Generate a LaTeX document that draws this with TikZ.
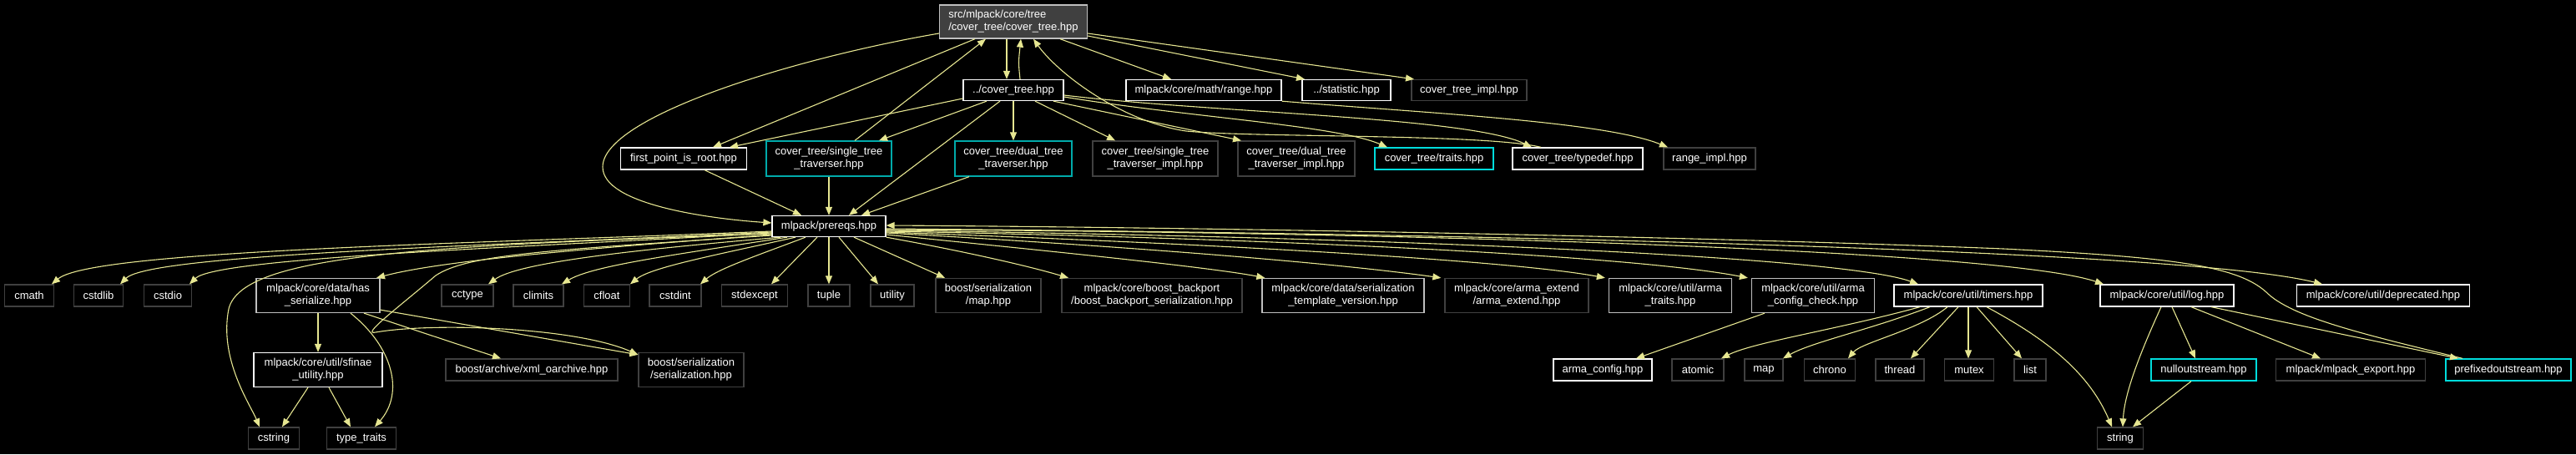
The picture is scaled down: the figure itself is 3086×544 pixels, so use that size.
\documentclass[tikz,border=0pt]{standalone}
\usepackage{fontspec}
\setmainfont{Liberation Sans}
\usetikzlibrary{arrows.meta}
\definecolor{ecol}{RGB}{230,230,145}
\definecolor{dgray}{RGB}{64,64,64}
\definecolor{lgray}{RGB}{191,191,191}
\definecolor{cyanb}{RGB}{0,220,220}
\definecolor{tealb}{RGB}{0,170,170}
\definecolor{topfill}{RGB}{64,64,64}
\tikzset{
  nd/.style={draw, line width=1.3pt, text=white, fill=black,
    font=\fontsize{13}{15}\selectfont, align=center, inner sep=0pt},
  sz/.style 2 args={minimum width=#1, minimum height=#2},
  wb/.style={nd, draw=white},
  gb/.style={nd, draw=lgray},
  db/.style={nd, draw=dgray},
  cb/.style={nd, draw=cyanb},
  tb/.style={nd, draw=tealb},
  conn/.style={draw=ecol, line width=1.1pt, -{Triangle[length=10pt,width=8pt]}},
}
\begin{document}
\begin{tikzpicture}[x=1pt,y=-1pt]
\useasboundingbox (0,0) rectangle (3086,544);
\fill[black] (0,0) rectangle (3086,544);
% row 1
\node[nd, draw=lgray, fill=topfill, align=left, sz={177}{40}] (top) at (1214,26) {src/mlpack/core/tree\\/cover\_tree/cover\_tree.hpp};
% row 2
\node[wb, sz={120}{25}] (ct) at (1214,108) {../cover\_tree.hpp};
\node[wb, sz={186}{25}] (range) at (1442,108) {mlpack/core/math/range.hpp};
\node[wb, sz={106}{25}] (stat) at (1613,108) {../statistic.hpp};
\node[db, sz={138}{25}] (impl) at (1760,108) {cover\_tree\_impl.hpp};
% row 3
\node[wb, sz={151}{26}] (fpr) at (819,190) {first\_point\_is\_root.hpp};
\node[tb, sz={150}{42}] (stt) at (993,190) {cover\_tree/single\_tree\\\_traverser.hpp};
\node[tb, sz={140}{42}] (dtt) at (1214,190) {cover\_tree/dual\_tree\\\_traverser.hpp};
\node[db, sz={150}{42}] (stti) at (1384,190) {cover\_tree/single\_tree\\\_traverser\_impl.hpp};
\node[db, sz={140}{42}] (dtti) at (1553,190) {cover\_tree/dual\_tree\\\_traverser\_impl.hpp};
\node[cb, sz={142}{26}] (traits) at (1718,190) {cover\_tree/traits.hpp};
\node[wb, sz={156}{26}] (typedef) at (1890,190) {cover\_tree/typedef.hpp};
\node[db, sz={110}{26}] (rimpl) at (2048,190) {range\_impl.hpp};
% row 4
\node[wb, sz={136}{25}] (prereqs) at (993,271) {mlpack/prereqs.hpp};
% row 5
\node[db, sz={59}{26}] (cmath) at (35,354) {cmath};
\node[db, sz={59}{26}] (cstdlib) at (118,354) {cstdlib};
\node[db, sz={57}{26}] (cstdio) at (201,354) {cstdio};
\node[gb, sz={148}{41}] (hasser) at (381,354) {mlpack/core/data/has\\\_serialize.hpp};
\node[db, sz={62}{26}] (cctype) at (560,354) {cctype};
\node[db, sz={60}{26}] (climits) at (645,354) {climits};
\node[db, sz={55}{26}] (cfloat) at (727,354) {cfloat};
\node[db, sz={62}{26}] (cstdint) at (809,354) {cstdint};
\node[db, sz={79}{26}] (stdexcept) at (904,354) {stdexcept};
\node[db, sz={50}{26}] (tuple) at (993,354) {tuple};
\node[db, sz={52}{26}] (utility) at (1069,354) {utility};
\node[db, sz={126}{41}] (bsmap) at (1184,354) {boost/serialization\\/map.hpp};
\node[db, sz={216}{41}] (bb) at (1380,354) {mlpack/core/boost\_backport\\/boost\_backport\_serialization.hpp};
\node[gb, sz={194}{41}] (stv) at (1609,354) {mlpack/core/data/serialization\\\_template\_version.hpp};
\node[db, sz={172}{41}] (ae) at (1817,354) {mlpack/core/arma\_extend\\/arma\_extend.hpp};
\node[gb, sz={147}{41}] (atraits) at (2001,354) {mlpack/core/util/arma\\\_traits.hpp};
\node[gb, sz={147}{41}] (acc) at (2172,354) {mlpack/core/util/arma\\\_config\_check.hpp};
\node[wb, sz={178}{26}] (timers) at (2358,354) {mlpack/core/util/timers.hpp};
\node[wb, sz={160}{26}] (log) at (2596,354) {mlpack/core/util/log.hpp};
\node[wb, sz={207}{26}] (depr) at (2855,354) {mlpack/core/util/deprecated.hpp};
% row 6
\node[wb, sz={154}{41}] (sfinae) at (381,443) {mlpack/core/util/sfinae\\\_utility.hpp};
\node[db, sz={206}{26}] (xml) at (637,443) {boost/archive/xml\_oarchive.hpp};
\node[db, sz={126}{41}] (bser) at (828,443) {boost/serialization\\/serialization.hpp};
\node[wb, sz={118}{26}] (acfg) at (1920,443) {arma\_config.hpp};
\node[db, sz={62}{26}] (atomic) at (2034,443) {atomic};
\node[db, sz={46}{26}] (mapn) at (2113,443) {map};
\node[db, sz={61}{26}] (chrono) at (2192,443) {chrono};
\node[db, sz={58}{26}] (thread) at (2276,443) {thread};
\node[db, sz={59}{26}] (mutex) at (2359,443) {mutex};
\node[db, sz={38}{26}] (list) at (2432,443) {list};
\node[cb, sz={126}{26}] (nullout) at (2640,443) {nulloutstream.hpp};
\node[db, sz={179}{26}] (mexp) at (2816,443) {mlpack/mlpack\_export.hpp};
\node[cb, sz={150}{26}] (prefixed) at (3005,443) {prefixedoutstream.hpp};
% row 7
\node[db, sz={61}{26}] (cstring) at (328,525) {cstring};
\node[db, sz={83}{26}] (ttraits) at (433,525) {type\_traits};
\node[db, sz={55}{26}] (string) at (2540,525) {string};

% ---- edges from top
\draw[conn] ([xshift=-8]top.south) -- ([xshift=-8]ct.north);
\draw[conn] ([xshift=8]ct.north) .. controls (1220,75) .. ([xshift=9]top.south);
\draw[conn] ([xshift=-46]top.south) -- ([xshift=35]fpr.north);
\draw[conn] ([yshift=-14]top.west) .. controls (950,70) and (722,140) .. (722,200)
  .. controls (722,245) and (850,262) .. ([yshift=4]prereqs.west);
\draw[conn] ([xshift=31]stt.north) -- ([xshift=-33]top.south);
\draw[conn] ([xshift=-44]typedef.north) .. controls (1780,160) and (1500,165) .. (1421,157)
  .. controls (1340,145) and (1265,85) .. ([xshift=24]top.south);
\draw[conn] ([xshift=56]top.south) -- ([xshift=-39]range.north);
\draw[conn] ([yshift=-17]top.east) -- ([xshift=-50]stat.north);
\draw[conn] ([yshift=-14]top.east) -- ([xshift=-66]impl.north);
% ---- edges from ../cover_tree.hpp
\draw[conn] ([yshift=-10]ct.west) -- ([xshift=55]fpr.north);
\draw[conn] ([xshift=-32]ct.south) -- ([xshift=60]stt.north);
\draw[conn] (ct.south) -- (dtt.north);
\draw[conn] ([xshift=-16]ct.south) -- ([xshift=24]prereqs.north);
\draw[conn] ([xshift=26]ct.south) -- ([xshift=-48]stti.north);
\draw[conn] ([xshift=48]ct.south) -- ([xshift=-66]dtti.north);
\draw[conn] ([yshift=-8]ct.east) .. controls (1420,140) and (1600,150) .. ([xshift=-56]traits.north);
\draw[conn] ([yshift=-6]ct.east) .. controls (1450,135) and (1760,140) .. ([xshift=-55]typedef.north);
\draw[conn] (range.south east) .. controls (1700,135) and (1920,145) .. ([xshift=-50]rimpl.north);
% ---- into prereqs
\draw[conn] ([xshift=25]fpr.south) -- ([xshift=-33]prereqs.north);
\draw[conn] (stt.south) -- (prereqs.north);
\draw[conn] ([xshift=-53]dtt.south) -- ([xshift=39]prereqs.north);
% ---- prereqs out, left
\draw[conn] ([yshift=-6]prereqs.west) .. controls (560,292) and (110,300) .. ([xshift=27]cmath.north);
\draw[conn] ([yshift=-7]prereqs.west) .. controls (600,294) and (180,304) .. ([xshift=26]cstdlib.north);
\draw[conn] ([yshift=-8]prereqs.west) .. controls (640,296) and (260,308) .. ([xshift=26]cstdio.north);
\draw[conn] ([yshift=-9]prereqs.west) .. controls (500,295) and (290,305) .. (274,370)
  .. controls (262,430) and (300,485) .. ([xshift=-17]cstring.north);
\draw[conn] ([yshift=-10]prereqs.west) .. controls (700,298) and (530,312) .. ([xshift=70]hasser.north);
\draw[conn] ([yshift=-11]prereqs.west) .. controls (650,300) and (560,305) .. (522,330)
  .. controls (475,370) and (432,402) .. (450,398)
  .. controls (520,386) and (690,392) .. ([yshift=-3]bser.north west);
\draw[conn] ([xshift=-58]prereqs.south) .. controls (750,300) and (620,315) .. ([xshift=25]cctype.north);
\draw[conn] ([xshift=-50]prereqs.south) .. controls (810,305) and (710,318) .. ([xshift=28]climits.north);
\draw[conn] ([xshift=-40]prereqs.south) .. controls (860,305) and (780,320) .. ([xshift=28]cfloat.north);
\draw[conn] ([xshift=-28]prereqs.south) .. controls (910,305) and (860,322) .. ([xshift=30]cstdint.north);
\draw[conn] ([xshift=-14]prereqs.south) -- ([xshift=20]stdexcept.north);
\draw[conn] (prereqs.south) -- (tuple.north);
% ---- prereqs out, right
\draw[conn] ([xshift=12]prereqs.south) -- ([xshift=-17]utility.north);
\draw[conn] ([xshift=30]prereqs.south) -- ([xshift=-52]bsmap.north);
\draw[conn] (prereqs.south east) .. controls (1150,300) and (1230,318) .. ([xshift=-100]bb.north);
\draw[conn] ([yshift=-10]prereqs.east) .. controls (1250,300) and (1450,320) .. ([xshift=4]stv.north west);
\draw[conn] ([yshift=-8]prereqs.east) .. controls (1350,295) and (1600,315) .. ([xshift=-4]ae.north west);
\draw[conn] ([yshift=-7]prereqs.east) .. controls (1400,290) and (1800,310) .. ([xshift=-4]atraits.north west);
\draw[conn] ([yshift=-6]prereqs.east) .. controls (1500,285) and (1950,305) .. ([xshift=-4]acc.north west);
\draw[conn] ([yshift=-5]prereqs.east) .. controls (1600,283) and (2200,305) .. ([xshift=-60]timers.north);
\draw[conn] ([yshift=-4]prereqs.east) .. controls (1700,278) and (2400,300) .. ([xshift=-76]log.north);
\draw[conn] ([yshift=-3]prereqs.east) .. controls (1800,280) and (2620,300) .. ([xshift=-73]depr.north);
\draw[conn] ([xshift=-55]prefixed.north) .. controls (2830,400) and (2745,380) .. (2715,350)
  .. controls (2680,318) and (2600,308) .. (2400,298)
  .. controls (2000,282) and (1400,272) .. ([yshift=1]prereqs.east);
% ---- has_serialize, sfinae
\draw[conn] (hasser.south) -- (sfinae.north);
\draw[conn] ([xshift=39]hasser.south) .. controls (470,415) and (485,470) .. ([xshift=16]ttraits.north);
\draw[conn] ([xshift=55]hasser.south) -- ([xshift=-37]xml.north);
\draw[conn] ([yshift=4]hasser.south east) -- ([yshift=-3]bser.north west);
\draw[conn] ([xshift=-12]sfinae.south) -- ([xshift=10]cstring.north);
\draw[conn] ([xshift=13]sfinae.south) -- ([xshift=-13]ttraits.north);
% ---- arma_config_check
\draw[conn] ([xshift=-58]acc.south) -- ([xshift=40]acfg.north);
% ---- timers
\draw[conn] ([xshift=-58]timers.south) .. controls (2200,395) and (2100,410) .. ([xshift=28]atomic.north);
\draw[conn] ([xshift=-46]timers.south) .. controls (2240,395) and (2170,410) .. ([xshift=23]mapn.north);
\draw[conn] ([xshift=-25]timers.south) .. controls (2300,395) and (2230,410) .. ([xshift=22]chrono.north);
\draw[conn] ([xshift=-12]timers.south) -- ([xshift=13]thread.north);
\draw[conn] (timers.south) -- ([xshift=-1]mutex.north);
\draw[conn] ([xshift=10]timers.south) -- ([xshift=-10]list.north);
\draw[conn] ([xshift=22]timers.south) .. controls (2440,400) and (2500,440) .. ([xshift=-10]string.north);
% ---- log
\draw[conn] ([xshift=-7]log.south) .. controls (2565,420) and (2545,470) .. ([xshift=3]string.north);
\draw[conn] ([xshift=6]log.south) -- ([xshift=-10]nullout.north);
\draw[conn] ([xshift=29]log.south) -- ([xshift=-36]mexp.north);
\draw[conn] ([xshift=53]log.south) -- ([xshift=-60]prefixed.north);
\draw[conn] ([xshift=-15]nullout.south) -- ([xshift=15]string.north);
\end{tikzpicture}
\end{document}
